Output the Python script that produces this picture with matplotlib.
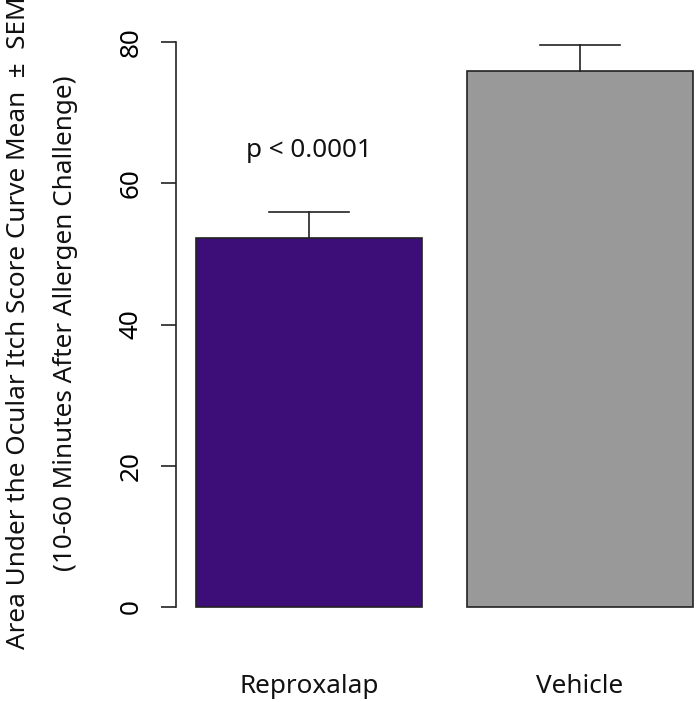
import matplotlib
matplotlib.use("Agg")
import matplotlib.pyplot as plt

groups = ["Reproxalap", "Vehicle"]
means = [52.2, 75.85]
sems = [3.7, 3.75]
colors = ["#3d0e78", "#999999"]
yticks = [0, 20, 40, 60, 80]
p_label = "p < 0.0001"

plt.rcParams["font.family"] = ["Noto Sans", "DejaVu Sans"]
FS = 18.8

W, H = 697, 702
fig = plt.figure(figsize=(W / 100, H / 100), dpi=100)

# plot region in pixels (left, right, top, bottom)
px_l, px_r, px_t, px_b = 176, 697, 20, 630
ax = fig.add_axes([px_l / W, 1 - px_b / H, (px_r - px_l) / W, (px_b - px_t) / H])

# base-R style bar positions: width 1, space 0.2
xpos = [0.7, 1.9]
ax.bar(xpos, means, width=1.0, color=colors, edgecolor="#222222", linewidth=1.2, zorder=2)

for x, m, s in zip(xpos, means, sems):
    ax.plot([x, x], [m, m + s], color="#222222", lw=1.2, zorder=3)
    ax.plot([x - 0.177, x + 0.177], [m + s, m + s], color="#222222", lw=1.2, zorder=3)

ax.text(xpos[0], 64.7, p_label, ha="center", va="center", fontsize=FS, color="#111111")

ax.set_xlim(0.112, 0.112 + (px_r - px_l) / 226.0)
ax.set_ylim(-23 / 7.0625, 587 / 7.0625)

for side in ["top", "right", "bottom"]:
    ax.spines[side].set_visible(False)
ax.spines["left"].set_bounds(0, 80)
ax.spines["left"].set_color("#222222")
ax.spines["left"].set_linewidth(1.2)
ax.set_yticks(yticks)
ax.set_yticklabels([str(t) for t in yticks], rotation=90, va="center", fontsize=FS)
ax.tick_params(axis="y", length=10.5, width=1.2, color="#222222", pad=13)
ax.set_xticks([])

for x, g in zip(xpos, groups):
    ax.text(x, -11.3, g, ha="center", va="center", fontsize=FS, color="#111111", clip_on=False)

fig.text(19 / W, 1 - 323 / H, "Area Under the Ocular Itch Score Curve Mean  \u00b1  SEM",
         rotation=90, ha="center", va="center", fontsize=FS, color="#111111")
fig.text(66 / W, 1 - 323 / H, "(10-60 Minutes After Allergen Challenge)",
         rotation=90, ha="center", va="center", fontsize=FS, color="#111111")

fig.savefig("out.png", dpi=100)
